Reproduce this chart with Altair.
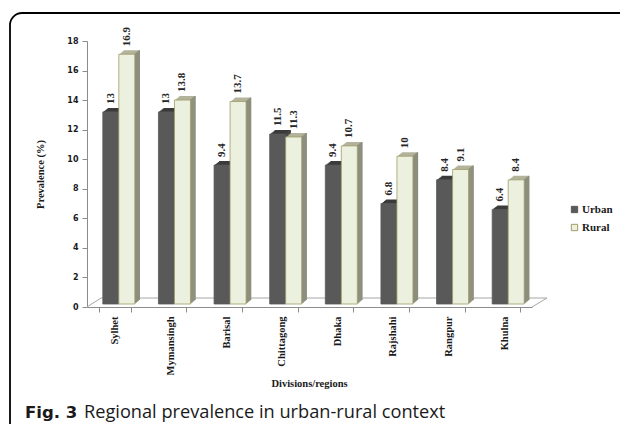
import altair as alt
import pandas as pd

regions = ["Sylhet", "Mymansingh", "Barisal", "Chittagong", "Dhaka", "Rajshahi", "Rangpur", "Khulna"]
urban = [13, 13, 9.4, 11.5, 9.4, 6.8, 8.4, 6.4]
rural = [16.9, 13.8, 13.7, 11.3, 10.7, 10, 9.1, 8.4]
series = ["Urban", "Rural"]
y_ticks = [0, 2, 4, 6, 8, 10, 12, 14, 16, 18]

rows = []
for r, u, ru in zip(regions, urban, rural):
    rows.append({"region": r, "series": "Urban", "value": u})
    rows.append({"region": r, "series": "Rural", "value": ru})
df = pd.DataFrame(rows)

W, H = 445, 266
SERIF = "Liberation Serif"
GRAY = "#8c8c8c"
BW = 16  # front face width (px)

x_enc = alt.X("region:N", sort=regions,
              scale=alt.Scale(paddingInner=0.425, paddingOuter=0.2125),
              axis=alt.Axis(title="Divisions/regions", labelAngle=270, labelFont=SERIF,
                            labelFontWeight="bold", labelFontSize=10.5, labelColor="#1a1a1a",
                            labelPadding=4, tickBand="extent", tickSize=5, tickColor=GRAY,
                            domainColor=GRAY, titleFont=SERIF, titleFontSize=10.5,
                            titleFontWeight="bold", titleColor="#1a1a1a", titleX=222, titleY=76,
                            titleBaseline="middle", titleAlign="center"))
y_enc = alt.Y("value:Q", scale=alt.Scale(domain=[0, 18], nice=False),
              axis=alt.Axis(title="Prevalence (%)", values=y_ticks, labelFont="DejaVu Sans",
                            labelFontWeight="bold", labelFontSize=8, labelColor="#1a1a1a",
                            labelPadding=4, tickSize=5, tickColor=GRAY, domainColor=GRAY,
                            grid=False, titleFont=SERIF, titleFontSize=10.5,
                            titleFontWeight="bold", titleColor="#1a1a1a", titleX=-47,
                            titleY=133, titleAngle=270, titleBaseline="middle",
                            titleAlign="center"))

plain = alt.Chart(df).encode(x=x_enc, y=y_enc)

# horizontal centre of each series' front face relative to the band centre
centre = {"Urban": -BW / 2 + 4, "Rural": BW / 2 + 4}
top_colors = {"Urban": "#3b3b3b", "Rural": "#b3b39b"}
side_colors = {"Urban": "#464646", "Rural": "#8e8e7e"}

deco = alt.Chart(pd.DataFrame({"a": [0]}))
floor = alt.layer(
    deco.mark_rule(color="#a6a6a6").encode(x=alt.value(0), y=alt.value(H), x2=alt.value(14), y2=alt.value(H - 9)),
    deco.mark_rule(color="#a6a6a6").encode(x=alt.value(14), y=alt.value(H - 9), x2=alt.value(W + 15), y2=alt.value(H - 9)),
    deco.mark_rule(color="#a6a6a6").encode(x=alt.value(W), y=alt.value(H), x2=alt.value(W + 15), y2=alt.value(H - 9)),
)

legend = alt.Legend(title=None, orient="none", legendX=482, legendY=163, symbolType="square",
                    symbolSize=40, labelFont=SERIF, labelFontWeight="bold", labelFontSize=11,
                    labelColor="#1a1a1a", rowPadding=6, labelOffset=2, symbolStrokeWidth=1)
fill_enc = alt.Fill("series:N", sort=series,
                    scale=alt.Scale(domain=series, range=["#595959", "#ebf1de"]), legend=legend)
stroke_enc = alt.Stroke("series:N", sort=series,
                        scale=alt.Scale(domain=series, range=["#595959", "#a09c68"]), legend=legend)

layers = [floor]
for s in series:
    sub = plain.transform_filter(alt.datum.series == s)
    c = centre[s]
    for k in range(5, 0, -1):
        layers.append(sub.mark_bar(width=BW, xOffset=c + k, yOffset=-3 - 0.8 * k,
                                   color=top_colors[s]))
    for k in range(5, 0, -1):
        layers.append(sub.mark_bar(width=1.4, xOffset=c + BW / 2 + k - 0.5,
                                   yOffset=-3 - 0.8 * k, color=side_colors[s]))
    layers.append(sub.mark_bar(width=BW, xOffset=c, yOffset=-3, strokeWidth=0.8)
                  .encode(fill=fill_enc, stroke=stroke_enc))

for s in series:
    sub = plain.transform_filter(alt.datum.series == s)
    layers.append(sub.mark_text(angle=270, align="left", baseline="middle",
                                xOffset=centre[s], yOffset=-11, font=SERIF, fontWeight="bold",
                                fontSize=11, color="#262626").encode(text=alt.Text("value:Q")))

border = deco.mark_rect(fillOpacity=0, stroke="black", strokeWidth=1.8, cornerRadius=12).encode(
    x=alt.value(-77), x2=alt.value(700), y=alt.value(-28), y2=alt.value(500))

cap1 = deco.mark_text(font="DejaVu Sans", fontSize=16.5, fontWeight="bold", align="left",
                      baseline="alphabetic", color="#1a1a1a").encode(
    x=alt.value(-62), y=alt.value(377), text=alt.value("Fig. 3"))
cap2 = deco.mark_text(font="Open Sans", fontSize=18.2, align="left",
                      baseline="alphabetic", color="#1a1a1a").encode(
    x=alt.value(-3), y=alt.value(377), text=alt.value("Regional prevalence in urban-rural context"))

layers += [border, cap1, cap2]

chart = alt.layer(*layers).properties(
    width=W, height=H,
    autosize=alt.AutoSizeParams(type="none"),
    padding={"left": 79, "top": 33, "right": 88, "bottom": 117},
    background="white",
).configure_view(stroke=None)

chart.save("out.html", embed_options={"renderer": "svg", "actions": False})
